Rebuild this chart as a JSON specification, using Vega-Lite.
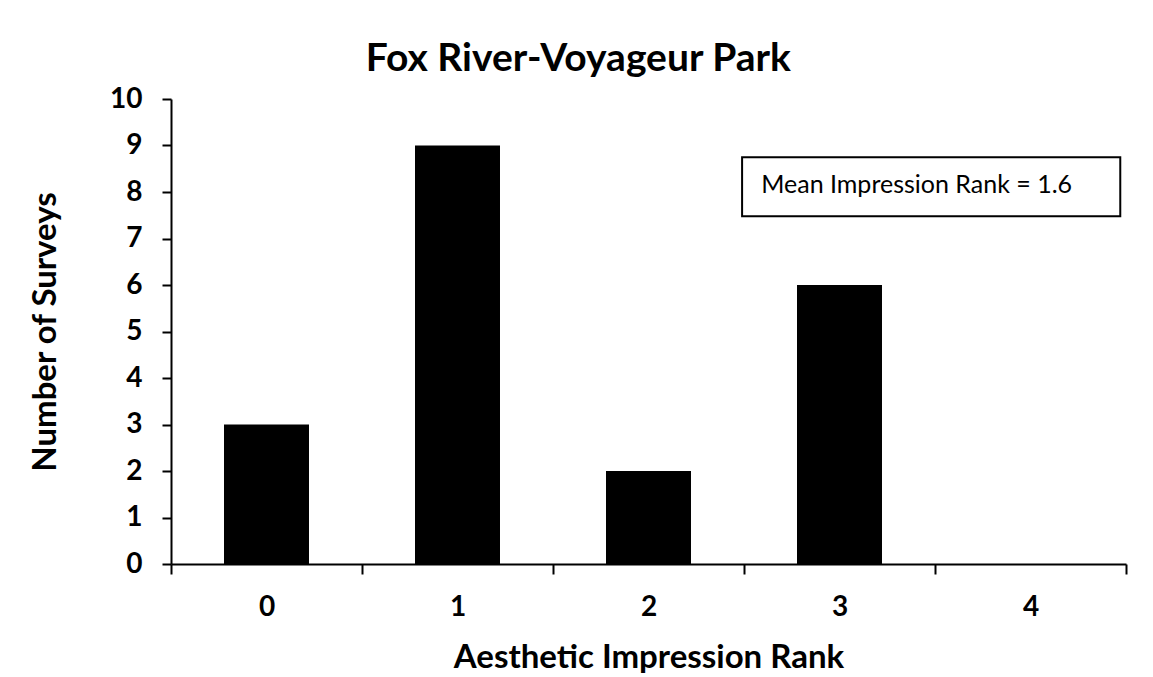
{
  "$schema": "https://vega.github.io/schema/vega-lite/v6.json",
  "width": 955,
  "height": 465,
  "autosize": {"type": "none"},
  "padding": {"left": 171, "top": 99, "right": 27, "bottom": 113},
  "background": "white",
  "title": {"text": "Fox River-Voyageur Park", "font": "Lato", "fontSize": 39, "fontWeight": "bold", "color": "black", "frame": "bounds", "anchor": "middle", "offset": 6},
  "config": {
    "view": {"stroke": null},
    "axis": {
      "domainColor": "black", "domainWidth": 2, "tickColor": "black", "tickWidth": 2,
      "labelFont": "Lato", "labelFontWeight": "bold", "labelFontSize": 28, "labelColor": "black",
      "titleFont": "Lato", "titleFontWeight": "bold", "titleFontSize": 33, "titleColor": "black",
      "grid": false
    }
  },
  "layer": [
    {
      "data": {"values": [
        {"rank": "0", "surveys": 3},
        {"rank": "1", "surveys": 9},
        {"rank": "2", "surveys": 2},
        {"rank": "3", "surveys": 6},
        {"rank": "4", "surveys": 0}
      ]},
      "mark": {"type": "bar", "color": "black", "width": {"band": 0.445}},
      "encoding": {
        "x": {"field": "rank", "type": "ordinal", "scale": {"paddingInner": 0, "paddingOuter": 0},
          "axis": {"title": "Aesthetic Impression Rank", "labelAngle": 0, "tickBand": "extent", "tickSize": 10, "labelPadding": 19, "titlePadding": 20}},
        "y": {"field": "surveys", "type": "quantitative", "scale": {"domain": [0, 10]}, "title": "Number of Surveys",
          "axis": {"values": [0,1,2,3,4,5,6,7,8,9,10], "tickSize": 9, "labelPadding": 20, "titlePadding": 47}}
      }
    },
    {
      "data": {"values": [{"x0": 2.99, "x1": 4.97, "y0": 7.48, "y1": 8.75}]},
      "mark": {"type": "rect", "fill": "white", "stroke": "black", "strokeWidth": 2},
      "encoding": {
        "x": {"field": "x0", "type": "quantitative", "scale": {"domain": [0, 5]}, "axis": null},
        "x2": {"field": "x1"},
        "y": {"field": "y0", "type": "quantitative", "scale": {"domain": [0, 10]}, "title": "Number of Surveys"},
        "y2": {"field": "y1"}
      }
    },
    {
      "data": {"values": [{"x": 3.09, "y": 8.14, "label": "Mean Impression Rank = 1.6"}]},
      "mark": {"type": "text", "align": "left", "baseline": "middle", "font": "Lato", "fontSize": 25, "color": "black"},
      "encoding": {
        "x": {"field": "x", "type": "quantitative", "scale": {"domain": [0, 5]}, "axis": null},
        "y": {"field": "y", "type": "quantitative", "scale": {"domain": [0, 10]}, "title": "Number of Surveys"},
        "text": {"field": "label"}
      }
    }
  ],
  "resolve": {"scale": {"x": "independent"}}
}
